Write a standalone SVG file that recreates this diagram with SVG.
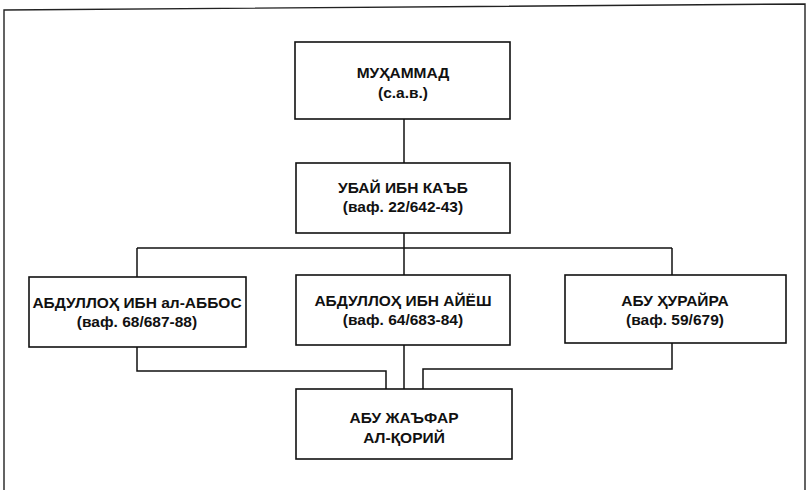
<svg xmlns="http://www.w3.org/2000/svg" width="810" height="490" viewBox="0 0 810 490">
<style>
.box{fill:#fff;stroke:#111;stroke-width:1.6}
.t{font-family:"Liberation Sans",Arial,sans-serif;font-size:15.5px;font-weight:bold;fill:#111;text-anchor:middle}
.c{fill:none;stroke:#111;stroke-width:1.5}
.frame{fill:none;stroke:#222;stroke-width:1.4}
</style>
<rect width="810" height="490" fill="#fff"/>
<path class="frame" d="M4,490 L4,10 L805,4 L805,490"/>
<g id="connectors">
<path class="c" d="M404,119 V163"/>
<path class="c" d="M404,233 V275"/>
<path class="c" d="M137,248 H672"/>
<path class="c" d="M137,248 V277"/>
<path class="c" d="M672,248 V275"/>
<path class="c" d="M137,347 V371 H386 V389"/>
<path class="c" d="M404,345 V389"/>
<path class="c" d="M672,343 V369 H423 V389"/>
</g>
<g id="muhammad">
<rect class="box" x="295" y="42" width="215" height="77"/>
<text class="t" x="403" y="78">МУҲАММАД</text>
<text class="t" x="403" y="98">(с.а.в.)</text>
</g>
<g id="ubai">
<rect class="box" x="296" y="163" width="214" height="70"/>
<text class="t" x="403" y="193">УБАЙ ИБН КАЪБ</text>
<text class="t" x="403" y="212">(ваф. 22/642-43)</text>
</g>
<g id="abbos">
<rect class="box" x="29" y="277" width="217" height="70"/>
<text class="t" x="137" y="308">АБДУЛЛОҲ ИБН ал-АББОС</text>
<text class="t" x="137" y="327">(ваф. 68/687-88)</text>
</g>
<g id="ayesh">
<rect class="box" x="296" y="275" width="214" height="70"/>
<text class="t" x="403" y="306">АБДУЛЛОҲ ИБН АЙЁШ</text>
<text class="t" x="403" y="325">(ваф. 64/683-84)</text>
</g>
<g id="hurayra">
<rect class="box" x="565" y="275" width="221" height="68"/>
<text class="t" x="675" y="306">АБУ ҲУРАЙРА</text>
<text class="t" x="675" y="325">(ваф. 59/679)</text>
</g>
<g id="qoriy">
<rect class="box" x="296" y="389" width="216" height="70"/>
<text class="t" x="404" y="423">АБУ ЖАЪФАР</text>
<text class="t" x="404" y="443">АЛ-ҚОРИЙ</text>
</g>
</svg>
